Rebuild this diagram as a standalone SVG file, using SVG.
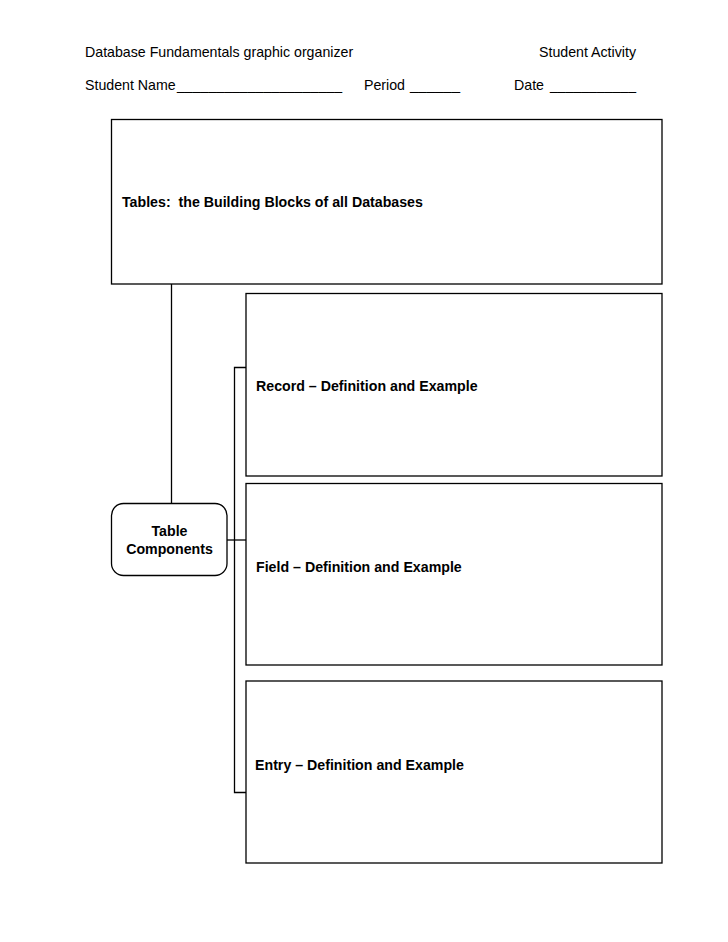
<svg xmlns="http://www.w3.org/2000/svg" width="728" height="942" viewBox="0 0 728 942">
<style>
text{font-family:"Liberation Sans",Arial,sans-serif;fill:#000;white-space:pre}
.h{font-size:14.2px}
.b{font-size:14.2px;font-weight:bold}
.box{fill:#fff;stroke:#000;stroke-width:1.3}
.ln{fill:none;stroke:#000;stroke-width:1.3}
</style>
<rect width="728" height="942" fill="#fff"/>
<g id="header">
<text class="h" x="85" y="57">Database Fundamentals graphic organizer</text>
<text class="h" x="636" y="57" text-anchor="end">Student Activity</text>
<text class="h" x="85" y="90">Student Name</text>
<text class="h" x="177" y="90" textLength="165" lengthAdjust="spacingAndGlyphs">_____________________</text>
<text class="h" x="364" y="90">Period</text>
<text class="h" x="410" y="90" textLength="50" lengthAdjust="spacingAndGlyphs">______</text>
<text class="h" x="514" y="90">Date</text>
<text class="h" x="550" y="90" textLength="86" lengthAdjust="spacingAndGlyphs">___________</text>
</g>
<g id="connectors">
<path class="ln" d="M171.5 284V503.5"/>
<path class="ln" d="M246 367.5H234.5V792.5H246"/>
<path class="ln" d="M227 540H246"/>
</g>
<g id="tables">
<rect class="box" x="111.5" y="119.5" width="550.5" height="164.5"/>
<text class="b" x="122" y="207" xml:space="preserve">Tables:  the Building Blocks of all Databases</text>
</g>
<g id="table-components">
<rect class="box" x="111.5" y="503.5" width="115.5" height="72" rx="12"/>
<text class="b" x="169.5" y="536" text-anchor="middle">Table</text>
<text class="b" x="169.5" y="554" text-anchor="middle">Components</text>
</g>
<g id="record">
<rect class="box" x="246" y="293.5" width="416" height="182.5"/>
<text class="b" x="256" y="391">Record – Definition and Example</text>
</g>
<g id="field">
<rect class="box" x="246" y="483.5" width="416" height="181.5"/>
<text class="b" x="256" y="572">Field – Definition and Example</text>
</g>
<g id="entry">
<rect class="box" x="246" y="681" width="416" height="182"/>
<text class="b" x="255" y="770">Entry – Definition and Example</text>
</g>
</svg>
